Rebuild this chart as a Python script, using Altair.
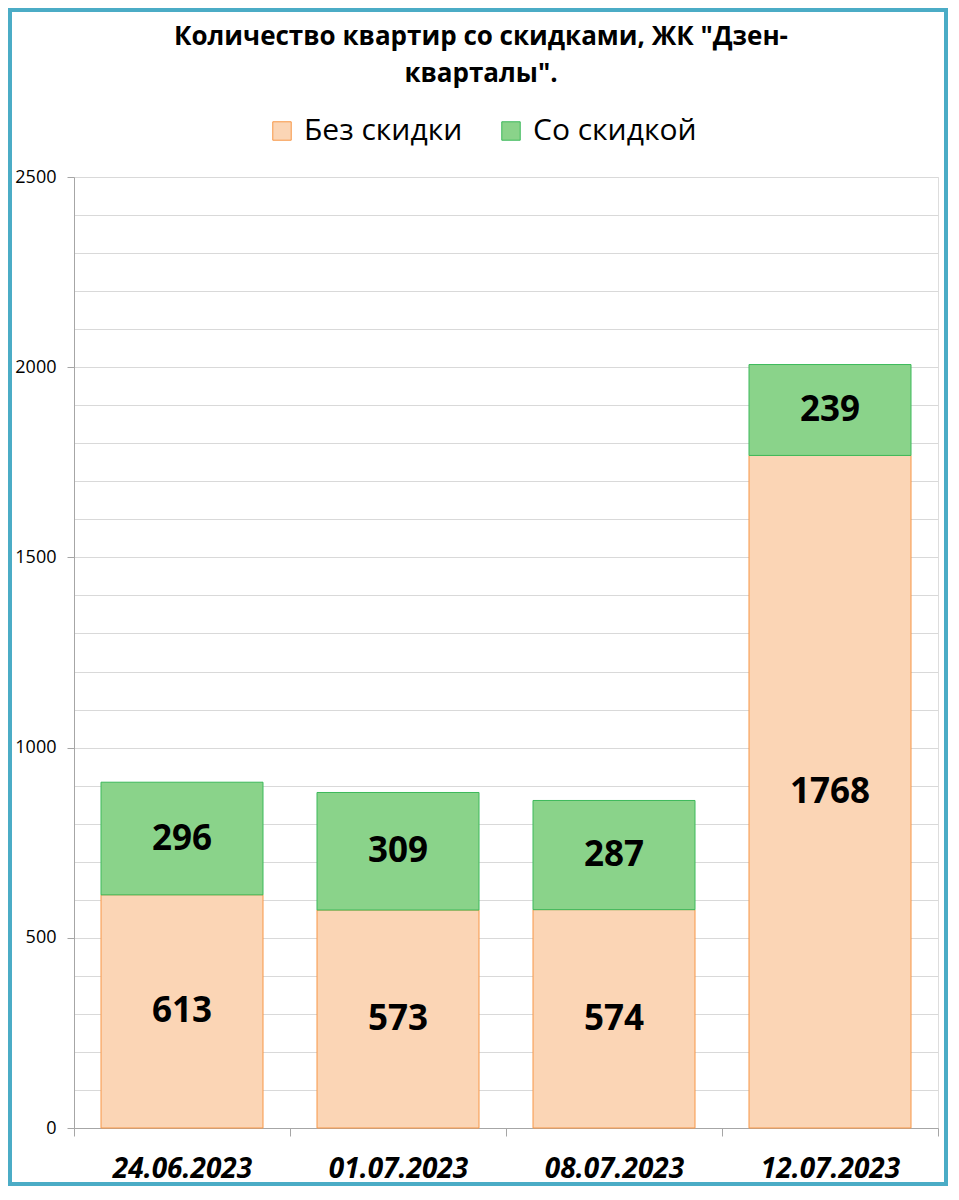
import altair as alt
import pandas as pd

# ---- data ----
dates = ["24.06.2023", "01.07.2023", "08.07.2023", "12.07.2023"]
no_discount = [613, 573, 574, 1768]
with_discount = [296, 309, 287, 239]
series = ["Без скидки", "Со скидкой"]
fills = ["#fbd5b5", "#8ad38a"]
strokes = ["#f79646", "#3cb95a"]
major_ticks = [0, 500, 1000, 1500, 2000, 2500]
minor_grid = list(range(0, 2501, 100))
title_lines = ["Количество квартир со скидками, ЖК \"Дзен-", "кварталы\"."]

rows = []
for d, a, b in zip(dates, no_discount, with_discount):
    rows.append({"date": d, "series": series[0], "value": a, "order": 0})
    rows.append({"date": d, "series": series[1], "value": b, "order": 1})
df = pd.DataFrame(rows)

FONT = "Open Sans"
W, H = 864, 951
PL, PT, PR, PB = 66, 169, 10, 58

x_enc = alt.X(
    "date:N", sort=dates, title=None,
    scale=alt.Scale(paddingInner=0, paddingOuter=0),
    axis=alt.Axis(
        labelAngle=0, labelFont=FONT, labelFontSize=28, labelFontWeight="bold",
        labelFontStyle="italic", labelColor="black", labelPadding=19,
        domainColor="#a6a6a6", tickColor="#a6a6a6", tickSize=8, tickBand="extent",
        grid=False,
    ),
)

y_scale = alt.Scale(domain=[0, 2500], nice=False)

legend = alt.Legend(
    title=None, orient="none", legendX=193, legendY=-61, direction="horizontal",
    symbolType="square", symbolSize=340, symbolStrokeWidth=1,
    labelFont=FONT, labelFontSize=30, labelColor="black", labelOffset=7,
    labelLimit=400, columnPadding=33,
)

bars = alt.Chart(df).mark_bar(strokeWidth=1, width={"band": 0.75}).encode(
    x=x_enc,
    y=alt.Y(
        "value:Q", stack="zero", scale=y_scale, title=None,
        axis=alt.Axis(
            values=major_ticks, format="d", labelOverlap=False,
            labelFont=FONT, labelFontSize=18, labelColor="black", labelPadding=11,
            grid=False, domainColor="#a6a6a6", tickColor="#a6a6a6", tickSize=7,
        ),
    ),
    fill=alt.Fill("series:N", scale=alt.Scale(domain=series, range=fills), legend=legend),
    stroke=alt.Stroke("series:N", scale=alt.Scale(domain=series, range=strokes), legend=legend),
    order=alt.Order("order:Q"),
)

labels = alt.Chart(df).transform_stack(
    stack="value", as_=["v0", "v1"], groupby=["date"], sort=[alt.SortField("order")]
).transform_calculate(
    mid="(datum.v0 + datum.v1) / 2"
).mark_text(font=FONT, fontSize=35, fontWeight="bold", color="black", baseline="middle").encode(
    x=alt.X("date:N", sort=dates),
    y=alt.Y(
        "mid:Q", scale=y_scale, title=None,
        axis=alt.Axis(
            orient="right", values=minor_grid, grid=True, gridColor="#d9d9d9",
            gridWidth=1, labels=False, ticks=False, domain=False,
        ),
    ),
    text=alt.Text("value:Q"),
)

frame = alt.Chart(pd.DataFrame({"k": [0]})).mark_rect(
    fill=None, stroke="#4bacc6", strokeWidth=4
).encode(
    x=alt.value(-PL + 2), x2=alt.value(W + PR - 2),
    y=alt.value(-PT + 2), y2=alt.value(H + PB - 2),
)

chart = alt.layer(bars, labels, frame).resolve_scale(y="shared").resolve_axis(
    y="independent"
).properties(
    width=W, height=H,
    title=alt.TitleParams(
        text=title_lines, font=FONT, fontSize=26, fontWeight="bold", color="black",
        anchor="middle", frame="group", dx=-25, offset=-79, lineHeight=37,
    ),
    autosize=alt.AutoSizeParams(type="none"),
    padding={"left": PL, "top": PT, "right": PR, "bottom": PB},
).configure_view(stroke=None).configure(background="white")

chart.save("out.html", embed_options={"renderer": "svg", "actions": False})
